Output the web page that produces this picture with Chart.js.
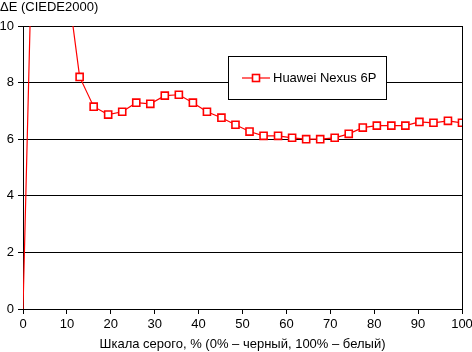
<!DOCTYPE html>
<html>
<head>
<meta charset="utf-8">
<script src="https://cdn.jsdelivr.net/npm/chart.js@4"></script>
<style>
  html, body { margin: 0; padding: 0; background: #fff; }
  #wrap { width: 472px; height: 352px; position: relative; }
</style>
</head>
<body>
<div id="wrap"><canvas id="myChart"></canvas></div>
<script>
// *******************  data

let grayLevels = [0, 3.2, 6.5, 9.7, 12.9, 16.1, 19.4, 22.6, 25.8, 29.0, 32.3, 35.5, 38.7, 41.9, 45.2, 48.4,
  51.6, 54.8, 58.1, 61.3, 64.5, 67.7, 71.0, 74.2, 77.4, 80.6, 83.9, 87.1, 90.3, 93.5, 96.8, 100];
let deltaE = [0, 20, 16, 12, 8.2, 7.15, 6.87, 6.97, 7.29, 7.25, 7.54, 7.57, 7.29, 6.97, 6.76, 6.51,
  6.27, 6.12, 6.12, 6.05, 6.0, 6.0, 6.05, 6.19, 6.41, 6.48, 6.48, 6.48, 6.61, 6.58, 6.65, 6.58];
let seriesName = 'Huawei Nexus 6P';
let chartTitle = '\u0394E (CIEDE2000)';
let xTitle = 'Шкала серого, % (0% – черный, 100% – белый)';

let fontFamily = '"Liberation Sans", Arial, sans-serif';
let red = '#ff0000';

// *******************  extra drawing: title, right border, legend box

let decorations = {
  id: 'decorations',
  afterDraw(chart){
    let c = chart.ctx;
    let area = chart.chartArea;
    c.save();

    // right border
    c.strokeStyle = '#000';
    c.lineWidth = 1;
    c.beginPath();
    c.moveTo(Math.round(area.right) + 0.5, area.top);
    c.lineTo(Math.round(area.right) + 0.5, area.bottom + 5);
    c.stroke();

    // title
    c.fillStyle = '#000';
    c.font = '13px ' + fontFamily;
    c.textBaseline = 'alphabetic';
    c.textAlign = 'left';
    c.fillText(chartTitle, 0, 11);

    // legend box
    let bx = 228.5, by = 56.5, bw = 158, bh = 43;
    c.fillStyle = '#fff';
    c.fillRect(bx, by, bw, bh);
    c.strokeRect(bx, by, bw, bh);

    let ly = 78;
    c.strokeStyle = red;
    c.lineWidth = 1.2;
    c.beginPath();
    c.moveTo(242, ly);
    c.lineTo(270, ly);
    c.stroke();
    c.lineWidth = 1.6;
    c.fillStyle = '#fff';
    c.fillRect(252.5, ly - 3.5, 7, 7);
    c.strokeRect(252.5, ly - 3.5, 7, 7);

    c.fillStyle = '#000';
    c.textBaseline = 'middle';
    c.fillText(seriesName, 273, ly);
    c.restore();
  }
};

// *******************  chart

let ctx = document.getElementById('myChart');

let points = [];
for(let i = 0; i < grayLevels.length; i++){
  points.push({x: grayLevels[i], y: deltaE[i]});
}

let myChartObj = {
  type: 'line',
  data: {
    datasets: [{
      label: seriesName,
      data: points,
      borderColor: red,
      borderWidth: 1.2,
      pointStyle: 'rect',
      // marker at the origin is hidden in the original
      pointRadius: (c) => c.dataIndex === 0 ? 0 : 5,
      pointBorderWidth: 1.6,
      pointBackgroundColor: '#fff',
      pointBorderColor: red,
      tension: 0
    }]
  },
  options: {
    responsive: true,
    maintainAspectRatio: false,
    animation: false,
    layout: { padding: { top: 26, right: 10, left: 0, bottom: 0 } },
    plugins: {
      legend: { display: false },
      tooltip: { enabled: false }
    },
    scales: {
      x: {
        type: 'linear',
        min: 0,
        max: 100,
        ticks: {
          stepSize: 10,
          color: '#000',
          padding: 3,
          maxRotation: 0,
          font: { family: fontFamily, size: 13 }
        },
        grid: {
          drawOnChartArea: false,
          drawTicks: true,
          tickLength: 5,
          color: '#000'
        },
        border: { color: '#000', width: 1 },
        title: {
          display: true,
          text: xTitle,
          color: '#000',
          padding: { top: 0, bottom: 0 },
          font: { family: fontFamily, size: 13 }
        },
        afterFit(scale){
          scale.height = 43;
          scale.paddingLeft = 0;
          scale.paddingRight = 0;
        }
      },
      y: {
        min: 0,
        max: 10,
        ticks: {
          stepSize: 2,
          color: '#000',
          padding: 4,
          font: { family: fontFamily, size: 13 }
        },
        grid: {
          color: '#000',
          lineWidth: 1,
          tickLength: 5
        },
        border: { color: '#000', width: 1 },
        afterFit(scale){
          scale.width = 23;
          scale.paddingTop = 0;
          scale.paddingBottom = 0;
        }
      }
    }
  },
  plugins: [decorations]
};

new Chart(ctx, myChartObj);
</script>
</body>
</html>
